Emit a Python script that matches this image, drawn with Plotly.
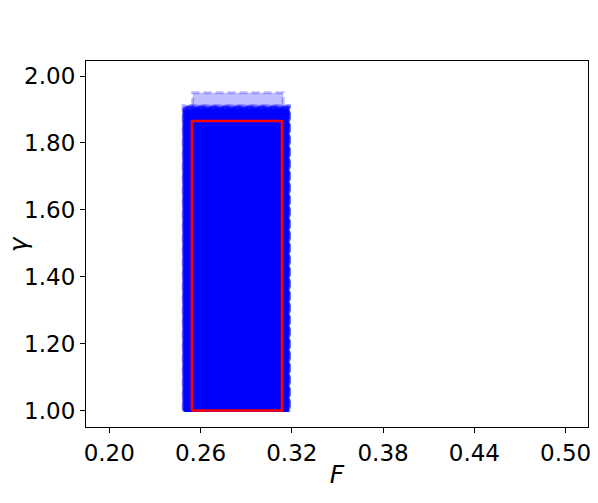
import plotly.graph_objects as go

# bounds of the sampled boxes (F on x, gamma on y)
box_f_low = [0.2490, 0.2500, 0.2485, 0.2510, 0.2495, 0.2520, 0.2488, 0.2505, 0.2515, 0.2492,
             0.2530, 0.2498, 0.2487, 0.2512, 0.2502, 0.2525, 0.2494, 0.2508, 0.2490, 0.2518]
box_f_high = [0.3180, 0.3165, 0.3185, 0.3150, 0.3172, 0.3160, 0.3183, 0.3145, 0.3176, 0.3168,
              0.3155, 0.3181, 0.3162, 0.3178, 0.3150, 0.3170, 0.3184, 0.3158, 0.3174, 0.3166]
box_g_low = [1.000] * 20
box_g_high = [1.905, 1.890, 1.912, 1.880, 1.900, 1.895, 1.908, 1.885, 1.902, 1.898,
              1.875, 1.910, 1.892, 1.904, 1.888, 1.897, 1.906, 1.883, 1.901, 1.893]

# the lighter outer box
outer_f = [0.2548, 0.3143]
outer_g = [1.00, 1.95]

# the red reference box
ref_f = [0.2543, 0.3135]
ref_g = [1.00, 1.866]

x_ticks = [0.20, 0.26, 0.32, 0.38, 0.44, 0.50]
y_ticks = [1.00, 1.20, 1.40, 1.60, 1.80, 2.00]


def rect(f, g):
    return [f[0], f[1], f[1], f[0], f[0]], [g[0], g[0], g[1], g[1], g[0]]


fig = go.Figure()

xs, ys = rect(outer_f, outer_g)
fig.add_trace(go.Scatter(x=xs, y=ys, mode='lines', fill='toself',
                         fillcolor='rgba(0,0,255,0.25)',
                         line=dict(color='rgba(0,0,255,0.25)', width=3, dash='8px,4px'),
                         hoverinfo='skip', showlegend=False))

for a, b, c, d in zip(box_f_low, box_f_high, box_g_low, box_g_high):
    xs, ys = rect([a, b], [c, d])
    fig.add_trace(go.Scatter(x=xs, y=ys, mode='lines', fill='toself',
                             fillcolor='rgba(0,0,255,0.25)',
                             line=dict(color='rgba(0,0,255,0.25)', width=3, dash='8px,4px'),
                             hoverinfo='skip', showlegend=False))

xs, ys = rect(ref_f, ref_g)
fig.add_trace(go.Scatter(x=xs, y=ys, mode='lines',
                         line=dict(color='red', width=2.5),
                         hoverinfo='skip', showlegend=False))

axis_font = dict(family='DejaVu Sans', size=23, color='black')
title_font = dict(family='DejaVu Sans', size=25, color='black')

# page body has an 8px margin, so the figure is sized to fit inside it
fig.update_layout(
    width=590, height=495,
    margin=dict(l=78, r=10, t=53, b=76),
    plot_bgcolor='white', paper_bgcolor='white',
    font=axis_font,
    xaxis=dict(range=[0.1847, 0.5147], tickvals=x_ticks,
               ticktext=['%.2f' % v for v in x_ticks], automargin=False,
               showgrid=False, zeroline=False, showline=True, mirror=True,
               linecolor='black', linewidth=1.2, ticks='outside', ticklen=5,
               tickcolor='black', tickfont=axis_font,
               title=dict(text='<i>F</i>', font=title_font, standoff=0)),
    yaxis=dict(range=[0.951, 2.045], tickvals=y_ticks,
               ticktext=['%.2f' % v for v in y_ticks], automargin=False,
               showgrid=False, zeroline=False, showline=True, mirror=True,
               linecolor='black', linewidth=1.2, ticks='outside', ticklen=5,
               tickcolor='black', tickfont=axis_font),
)

# y title close to the left edge, as in the original
fig.add_annotation(text='<i>γ</i>', xref='paper', yref='paper', x=-0.135, y=0.5,
                   textangle=-90, showarrow=False, font=title_font,
                   xanchor='center', yanchor='middle')

fig.write_html("out.html")
